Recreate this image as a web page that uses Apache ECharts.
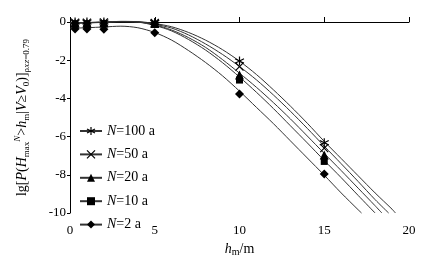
<!DOCTYPE html>
<html>
<head>
<meta charset="utf-8">
<script src="https://cdn.jsdelivr.net/npm/echarts@6/dist/echarts.min.js"></script>
<style>
  html, body { margin: 0; padding: 0; background: #fff; }
  #chart { width: 439px; height: 267px; }
</style>
</head>
<body>
<div id="chart"></div>
<script>
const seriesNames = ['N=100 a', 'N=50 a', 'N=20 a', 'N=10 a', 'N=2 a']

// measured points
const pointX = [0.3, 1, 2, 5, 10, 15]
const pointN100 = [0, 0, 0, -0.02, -2.04, -6.32]
const pointN50 = [-0.03, -0.03, -0.02, -0.05, -2.34, -6.6]
const pointN20 = [-0.06, -0.06, -0.05, -0.08, -2.77, -6.96]
const pointN10 = [-0.09, -0.09, -0.08, -0.12, -3.04, -7.3]
const pointN2 = [-0.36, -0.36, -0.38, -0.56, -3.77, -7.96]

// fitted curves
const curveX100 = [0, 1, 2, 3, 4, 5, 6, 7, 8, 9, 10, 11, 12, 13, 14, 15, 16, 17, 18, 19, 19.2]
const curveN100 = [-0.05, -0.03, 0, 0.03, 0.02, -0.08, -0.25, -0.55, -0.95, -1.45, -2.05, -2.75, -3.55, -4.4, -5.3, -6.25, -7.15, -8.05, -8.95, -9.8, -10]
const curveX50 = [0, 1, 2, 3, 4, 5, 6, 7, 8, 9, 10, 11, 12, 13, 14, 15, 16, 17, 18, 18.8]
const curveN50 = [-0.05, -0.03, 0, 0.03, 0.01, -0.12, -0.32, -0.68, -1.15, -1.7, -2.33, -3.03, -3.82, -4.67, -5.57, -6.5, -7.42, -8.35, -9.3, -10]
const curveX20 = [0, 1, 2, 3, 4, 5, 6, 7, 8, 9, 10, 11, 12, 13, 14, 15, 16, 17, 18, 18.4]
const curveN20 = [-0.06, -0.04, -0.01, 0.02, 0, -0.15, -0.42, -0.82, -1.33, -1.97, -2.68, -3.42, -4.22, -5.07, -5.97, -6.88, -7.78, -8.7, -9.62, -10]
const curveX10 = [0, 1, 2, 3, 4, 5, 6, 7, 8, 9, 10, 11, 12, 13, 14, 15, 16, 17, 18]
const curveN10 = [-0.07, -0.05, -0.02, 0.01, -0.01, -0.18, -0.47, -0.92, -1.47, -2.13, -2.88, -3.68, -4.53, -5.43, -6.33, -7.25, -8.15, -9.08, -10]
const curveX2 = [0, 1, 2, 3, 4, 5, 6, 7, 8, 9, 10, 11, 12, 13, 14, 15, 16, 17, 17.2]
const curveN2 = [-0.33, -0.3, -0.26, -0.22, -0.3, -0.55, -0.95, -1.5, -2.12, -2.82, -3.62, -4.47, -5.32, -6.22, -7.12, -8.02, -8.95, -9.83, -10]

const xTicks = [0, 5, 10, 15, 20]
const yTicks = [-10, -8, -6, -4, -2, 0]

const asterisk = 'path://M5,0L5,10M0.7,2.5L9.3,7.5M9.3,2.5L0.7,7.5'
const cross = 'path://M1,1L9,9M9,1L1,9'
const symbols = [asterisk, cross, 'triangle', 'rect', 'diamond']
const sizes = [9, 8, 9, 7, 9]

const curves = [
  [curveX100, curveN100],
  [curveX50, curveN50],
  [curveX20, curveN20],
  [curveX10, curveN10],
  [curveX2, curveN2]
]
const points = [pointN100, pointN50, pointN20, pointN10, pointN2]

const font = "'Liberation Serif', 'Times New Roman', serif"
const zip = (xs, ys) => xs.map((x, i) => [x, ys[i]])
const strokeStyle = { color: 'transparent', borderColor: '#000', borderWidth: 1.2, opacity: 1 }
const fillStyle = { color: '#000', borderWidth: 0, opacity: 1 }

const lineSeries = seriesNames.map((name, i) => ({
  name,
  type: 'line',
  data: zip(curves[i][0], curves[i][1]),
  smooth: 0.3,
  clip: false,
  showSymbol: false,
  symbol: symbols[i],
  lineStyle: { color: '#333', width: 1 },
  itemStyle: i < 2 ? strokeStyle : fillStyle,
  emphasis: { disabled: true },
  z: 2
}))

const scatterSeries = seriesNames.map((name, i) => ({
  name,
  type: 'scatter',
  data: zip(pointX, points[i]),
  symbol: symbols[i],
  symbolSize: sizes[i],
  itemStyle: i < 2 ? strokeStyle : fillStyle,
  emphasis: { disabled: true },
  z: 3
}))

const chart = echarts.init(document.getElementById('chart'), null, { renderer: 'canvas' })

chart.setOption({
  animation: false,
  backgroundColor: '#fff',
  textStyle: { fontFamily: font, color: '#000' },
  grid: { left: 70, right: 30, top: 22, bottom: 54 },
  legend: {
    data: seriesNames.map((name, i) => ({
      name,
      itemStyle: i < 2 ? strokeStyle : fillStyle
    })),
    orient: 'vertical',
    left: 74,
    top: 119,
    itemWidth: 22,
    itemHeight: 10,
    itemGap: 9.4,
    selectedMode: false,
    formatter: name => name.replace('N', '{i|N}'),
    textStyle: {
      fontFamily: font,
      fontSize: 14,
      color: '#000',
      rich: { i: { fontStyle: 'italic', fontFamily: font, fontSize: 14 } }
    }
  },
  xAxis: {
    type: 'value',
    min: xTicks[0],
    max: xTicks[xTicks.length - 1],
    interval: 5,
    name: '{i|h}{s|m}/m',
    nameLocation: 'middle',
    nameGap: 28,
    nameTextStyle: {
      fontFamily: font,
      fontSize: 14,
      color: '#000',
      rich: {
        i: { fontStyle: 'italic', fontFamily: font, fontSize: 14 },
        s: { fontFamily: font, fontSize: 10, verticalAlign: 'bottom', padding: [6, 0, 0, 0] }
      }
    },
    axisLine: { lineStyle: { color: '#000', width: 1 } },
    axisTick: { inside: true, length: 5, lineStyle: { color: '#000' } },
    axisLabel: { color: '#000', fontSize: 13, fontFamily: font, margin: 11 },
    splitLine: { show: false }
  },
  yAxis: {
    type: 'value',
    min: yTicks[0],
    max: yTicks[yTicks.length - 1],
    interval: 2,
    name: 'lg[{i|P}({i|H}{s|max}{u|N}>{i|h}{s|m}|{i|V}≥{i|V}{s|0})]{s|ρ}{ss|XZ}{s|=0.79}',
    nameLocation: 'middle',
    nameGap: 38,
    nameTextStyle: {
      fontFamily: font,
      fontSize: 14,
      color: '#000',
      rich: {
        i: { fontStyle: 'italic', fontFamily: font, fontSize: 14 },
        s: { fontFamily: font, fontSize: 9, padding: [8, 0, 0, 0] },
        ss: { fontFamily: font, fontSize: 7, fontStyle: 'italic', padding: [10, 0, 0, 0] },
        u: { fontFamily: font, fontSize: 9, fontStyle: 'italic', padding: [0, 0, 10, 0] }
      }
    },
    axisLine: { show: true, lineStyle: { color: '#000', width: 1 } },
    axisTick: { show: true, inside: false, length: 3, lineStyle: { color: '#000' } },
    axisLabel: { color: '#000', fontSize: 13, fontFamily: font, margin: 4 },
    splitLine: { show: false }
  },
  series: [...lineSeries, ...scatterSeries]
})
</script>
</body>
</html>
